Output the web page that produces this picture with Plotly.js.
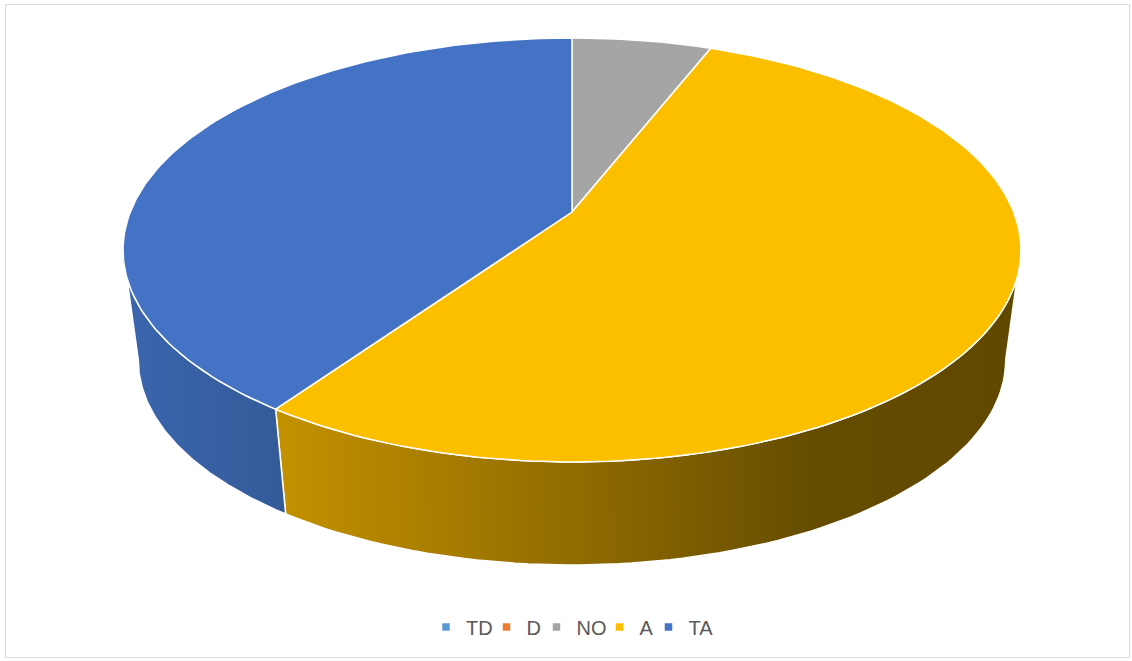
<!DOCTYPE html>
<html><head><meta charset="utf-8">
<script src="https://cdn.plot.ly/plotly-3.0.1.min.js"></script>
<style>html,body{margin:0;padding:0;background:#fff}#chart{width:1132px;height:661px}</style>
</head><body><div id="chart"></div>
<script>
// ---- data ----
const categories = ['TD', 'D', 'NO', 'A', 'TA'];
const counts = [0, 0, 4, 36, 27];
// ---- styles ----
const topColors = ['#5B9BD5', '#ED7D31', '#A5A5A5', '#FBBF00', '#4472C4'];
const legendWidths = [15.5, 5, 18, 4, 26];
const sideScales = [
  [[0, '#4A7DAE'], [1, '#3E6A94']],
  [[0, '#C56827'], [1, '#A35520']],
  [[0, '#8C8C8C'], [1, '#6E6E6E']],
  [[0, '#C49200'], [0.25, '#A47A00'], [0.5, '#836200'], [0.72, '#654C00'], [1, '#604800']],
  [[0, '#3B66AE'], [1, '#345A98']]
];

// ---- projection of the 3D disc (pixel-like axis space) ----
const G = {cx: 572, cy: 212, a: 441.7, b: 205.2, k: 0.179, s: 0.966, cyb: 323.5};
function topPt(th) {
  const X = Math.sin(th), Z = Math.cos(th), d = 1 + G.k * Z;
  return [G.cx + G.a * X / d, G.cy - G.b * Z / d];
}
function botPt(th) {
  const X = Math.sin(th), Z = Math.cos(th), d = 1 + G.k * Z;
  return [G.cx + G.s * G.a * X / d, G.cyb - G.s * G.b * Z / d];
}
const silA = Math.atan2(Math.sqrt(1 - G.k * G.k), -G.k);
const silB = 2 * Math.PI - silA;

const total = counts.reduce((p, c) => p + c, 0);
const sideTraces = [], topTraces = [], legendTraces = [];
let cum = 0;
categories.forEach((cat, i) => {
  const v = counts[i];
  const t0 = cum / total * 2 * Math.PI;
  const t1 = (cum + v) / total * 2 * Math.PI;
  cum += v;
  if (v > 0) {
    // side wall (visible front part)
    const lo = Math.max(t0, silA), hi = Math.min(t1, silB);
    if (lo < hi) {
      const xs = [], ys = [];
      const n = 80;
      for (let j = 0; j <= n; j++) { const p = topPt(lo + (hi - lo) * j / n); xs.push(p[0]); ys.push(p[1]); }
      for (let j = n; j >= 0; j--) { const p = botPt(lo + (hi - lo) * j / n); xs.push(p[0]); ys.push(p[1]); }
      xs.push(xs[0]); ys.push(ys[0]);
      const xmin = Math.min(...xs), xmax = Math.max(...xs);
      sideTraces.push({
        type: 'scatter', mode: 'lines', x: xs, y: ys, fill: 'toself',
        fillgradient: {type: 'horizontal', colorscale: sideScales[i], start: xmin, stop: xmax},
        line: {color: '#FFFFFF', width: 1.5}, hoverinfo: 'skip', showlegend: false
      });
    }
    // top face slice
    const xs = [G.cx], ys = [G.cy];
    const n = Math.max(20, Math.round((t1 - t0) * 60));
    for (let j = 0; j <= n; j++) { const p = topPt(t0 + (t1 - t0) * j / n); xs.push(p[0]); ys.push(p[1]); }
    xs.push(G.cx); ys.push(G.cy);
    topTraces.push({
      type: 'scatter', mode: 'lines', x: xs, y: ys, fill: 'toself', fillcolor: topColors[i],
      line: {color: '#FFFFFF', width: 1.5}, hoverinfo: 'skip', showlegend: false
    });
  }
  legendTraces.push({
    type: 'scatter', mode: 'markers', x: [null], y: [null], name: cat,
    legendwidth: legendWidths[i],
    marker: {symbol: 'square', size: 7.5, color: topColors[i]}, showlegend: true
  });
});

const layout = {
  width: 1132, height: 661,
  margin: {l: 0, r: 0, t: 0, b: 0},
  paper_bgcolor: '#FFFFFF', plot_bgcolor: '#FFFFFF',
  xaxis: {range: [0, 1132], visible: false, fixedrange: true},
  yaxis: {range: [661, 0], visible: false, fixedrange: true},
  showlegend: true,
  legend: {
    orientation: 'h', x: 426 / 1132, xanchor: 'left', y: 1 - 627 / 661, yanchor: 'middle',
    font: {family: 'Liberation Sans, Arial, sans-serif', size: 20, color: '#595959'},
    itemwidth: 30, bgcolor: 'rgba(0,0,0,0)'
  },
  shapes: [{
    type: 'rect', xref: 'paper', yref: 'paper',
    x0: 5.5 / 1132, x1: 1129.5 / 1132, y0: 1 - 657.5 / 661, y1: 1 - 4.5 / 661,
    line: {color: '#D9D9D9', width: 1}, fillcolor: 'rgba(0,0,0,0)', layer: 'below'
  }]
};

Plotly.newPlot('chart', sideTraces.concat(topTraces, legendTraces), layout, {staticPlot: true, displayModeBar: false});
</script>
</body></html>
